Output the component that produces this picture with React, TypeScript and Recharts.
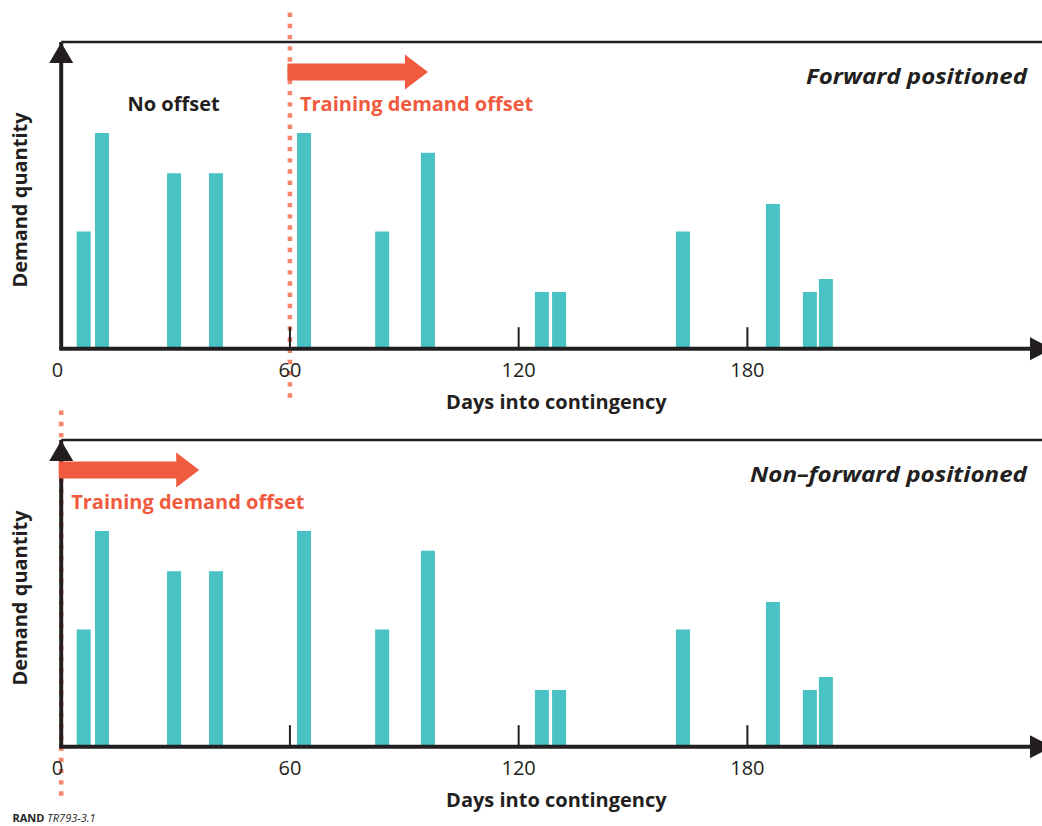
import React from 'react';
import { BarChart, Bar, XAxis, YAxis, ReferenceLine, ReferenceDot } from 'recharts';

// ---- data ----
const days = [5.9, 10.7, 29.6, 40.6, 63.7, 84.2, 96.2, 126.1, 130.6, 163.1, 186.7, 196.4, 200.6];
const demand = [3.82, 7.03, 5.72, 5.72, 7.03, 3.82, 6.39, 1.85, 1.85, 3.82, 4.72, 1.85, 2.27];
const dayTicks = [0, 60, 120, 180];
const panelTitles = ['Forward positioned', 'Non\u2013forward positioned'];
const panelTitleWidths = [221, 277];
const offsetDays = [60, 0];
const offsetLabel = 'Training demand offset';
const noOffsetLabel = 'No offset';
const xTitle = 'Days into contingency';
const yTitle = 'Demand quantity';

const rows = days.map((d, i) => ({ day: d, qty: demand[i] }));

// ---- style ----
const INK = '#231f20';
const BAR = '#49c2c5';
const ARROW = '#f05a3e';
const DOTS = '#f6866b';
const FONT = "'Open Sans', 'Noto Sans', sans-serif";
const X_MAX = 254.4;
const Y_MAX = 10;

const DayTick = (props: any) => {
  const { x, y, payload } = props;
  const v = payload.value;
  return (
    <g>
      {v !== 0 && <line x1={x} x2={x} y1={y} y2={y - 21.5} stroke={INK} strokeWidth={2} />}
      <text
        x={v === 0 ? x - 3.7 : x}
        y={y + 28.6}
        textAnchor="middle"
        fontSize={20}
        fontFamily={FONT}
        fill={INK}
      >
        {v}
      </text>
    </g>
  );
};

const YArrowHead = (p: any) => (
  <polygon points={`${p.cx},${p.cy + 0.5} ${p.cx - 12},${p.cy + 21} ${p.cx + 12},${p.cy + 21}`} fill={INK} />
);
const XArrowHead = (p: any) => (
  <polygon points={`${p.cx + 21},${p.cy} ${p.cx - 1},${p.cy - 11.5} ${p.cx - 1},${p.cy + 11.5}`} fill={INK} />
);
const OffsetArrow = (p: any) => {
  const { cx, cy } = p;
  const x0 = cx - 2.5;
  const hb = cx + 115;
  const tip = cx + 138;
  return (
    <g>
      <polygon
        points={`${x0},${cy - 8.5} ${hb},${cy - 8.5} ${hb},${cy - 17.5} ${tip},${cy} ${hb},${cy + 17.5} ${hb},${cy + 8.5} ${x0},${cy + 8.5}`}
        fill={ARROW}
      />
      <text x={cx + 10} y={cy + 38.5} fontSize={20} fontWeight={700} fontFamily={FONT} fill={ARROW}>
        {offsetLabel}
      </text>
    </g>
  );
};

const Panel = ({ idx, top }: { idx: number; top: number }) => {
  const off = offsetDays[idx];
  const lineTop = idx === 0 ? 11.0 : 11.15;
  return (
    <div style={{ position: 'absolute', left: 0, top, width: 1042, height: 420 }}>
      <BarChart
        width={1042}
        height={420}
        data={rows}
        margin={{ top: 42, right: 11, left: 41.2, bottom: 41.3 }}
      >
        <ReferenceLine
          segment={[{ x: off, y: -1.6 }, { x: off, y: lineTop }]}
          stroke={DOTS}
          strokeWidth={4.6}
          strokeDasharray="4.4 6.8"
          ifOverflow="visible"
        />
        <Bar dataKey="qty" fill={BAR} barSize={14} isAnimationActive={false} />
        <ReferenceLine
          segment={[{ x: 0, y: Y_MAX }, { x: 258, y: Y_MAX }]}
          stroke={INK}
          strokeWidth={2.5}
          ifOverflow="visible"
        />
        <ReferenceDot x={off} y={9.02} r={0} shape={OffsetArrow} ifOverflow="visible" />
        <XAxis
          dataKey="day"
          type="number"
          domain={[0, X_MAX]}
          ticks={dayTicks}
          height={30}
          tickSize={0}
          tickMargin={0}
          tickLine={false}
          axisLine={{ stroke: INK, strokeWidth: 4, strokeLinecap: 'square' }}
          tick={<DayTick />}
          allowDataOverflow
        />
        <YAxis
          type="number"
          domain={[0, Y_MAX]}
          width={20}
          tick={false}
          tickLine={false}
          axisLine={{ stroke: INK, strokeWidth: 4 }}
          allowDataOverflow
        />
        <ReferenceDot x={0} y={Y_MAX} r={0} shape={YArrowHead} ifOverflow="visible" />
        <ReferenceDot x={X_MAX} y={0} r={0} shape={XArrowHead} ifOverflow="visible" />
      </BarChart>
      <svg
        width={1042}
        height={420}
        style={{ position: 'absolute', left: 0, top: 0, pointerEvents: 'none' }}
      >
        <text
          x={1027 - panelTitleWidths[idx]}
          y={84.3}
          fontSize={20.5}
          fontWeight={700}
          fontStyle="italic"
          fontFamily={FONT}
          fill={INK}
          textLength={panelTitleWidths[idx]}
          lengthAdjust="spacingAndGlyphs"
        >
          {panelTitles[idx]}
        </text>
        {idx === 0 && (
          <text x={127.5} y={111} fontSize={20} fontWeight={700} fontFamily={FONT} fill={INK}>
            {noOffsetLabel}
          </text>
        )}
        <text x={556.4} y={409.3} textAnchor="middle" fontSize={20} fontWeight={700} fontFamily={FONT} fill={INK}>
          {xTitle}
        </text>
        <text
          x={27}
          y={200}
          textAnchor="middle"
          fontSize={20}
          fontWeight={700}
          fontFamily={FONT}
          fill={INK}
          transform="rotate(-90, 27, 200)"
        >
          {yTitle}
        </text>
      </svg>
    </div>
  );
};

export default function App() {
  return (
    <div
      style={{
        position: 'absolute',
        left: 0,
        top: 0,
        width: 1042,
        height: 826,
        overflow: 'hidden',
        background: '#ffffff',
      }}
    >
      <Panel idx={0} top={0} />
      <Panel idx={1} top={397.5} />
      <svg width={1042} height={826} style={{ position: 'absolute', left: 0, top: 0, pointerEvents: 'none' }}>
        <text x={12.5} y={821.5} fontSize={11} fontFamily={FONT} fill={INK}>
          <tspan fontWeight={700}>RAND</tspan>
          <tspan fontStyle="italic"> TR793-3.1</tspan>
        </text>
      </svg>
    </div>
  );
}
